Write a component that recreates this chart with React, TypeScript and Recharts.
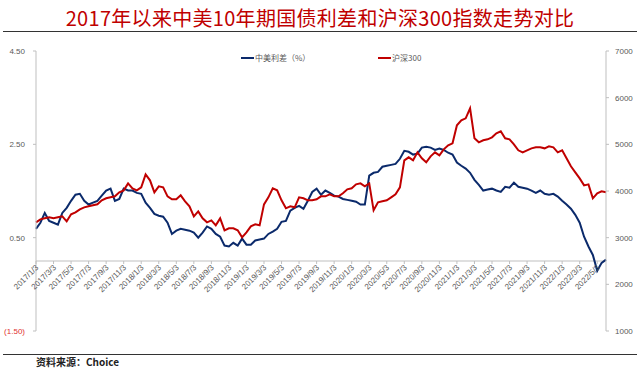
import { LineChart, Line, XAxis, YAxis, ReferenceLine } from 'recharts';

// half-month points, 2017/1/3 .. 2022/6/3
const years = [2017, 2018, 2019, 2020, 2021, 2022];
const dates: string[] = [];
years.forEach(y => {
    for (let m = 1; m <= 12; m++) {
        if (y === 2022 && m > 6) break;
        dates.push(`${y}/${m}/3`);
        if (y === 2022 && m === 6) break;
        dates.push(`${y}/${m}/18`);
    }
});

// 中美10年期国债利差 (%)
const spread = [
    0.69, 0.82, 1.03, 0.86, 0.82, 0.78, 1.03, 1.14, 1.29, 1.42,
    1.44, 1.29, 1.21, 1.25, 1.29, 1.40, 1.51, 1.55, 1.29, 1.33,
    1.55, 1.51, 1.51, 1.46, 1.44, 1.25, 1.14, 1.01, 0.97, 0.95,
    0.82, 0.58, 0.65, 0.69, 0.67, 0.65, 0.61, 0.50, 0.61, 0.74,
    0.69, 0.58, 0.52, 0.33, 0.31, 0.39, 0.33, 0.48, 0.35, 0.35,
    0.44, 0.46, 0.48, 0.58, 0.63, 0.69, 0.84, 0.86, 1.08, 1.14,
    1.18, 1.12, 1.29, 1.48, 1.55, 1.42, 1.51, 1.46, 1.40, 1.38,
    1.33, 1.31, 1.29, 1.27, 1.21, 1.21, 1.83, 1.89, 1.91, 2.02,
    2.04, 2.06, 2.08, 2.19, 2.36, 2.34, 2.28, 2.30, 2.43, 2.45,
    2.43, 2.38, 2.41, 2.38, 2.32, 2.28, 2.11, 2.04, 1.98, 1.89,
    1.74, 1.63, 1.51, 1.53, 1.55, 1.51, 1.48, 1.59, 1.57, 1.68,
    1.59, 1.57, 1.55, 1.51, 1.46, 1.51, 1.44, 1.42, 1.44, 1.38,
    1.29, 1.21, 1.12, 0.99, 0.82, 0.52, 0.31, 0.13, -0.21, -0.04,
    0.03,
];

// 沪深300
const csi300 = [
    3329, 3393, 3414, 3436, 3414, 3436, 3457, 3350, 3500, 3543,
    3607, 3650, 3672, 3693, 3714, 3800, 3843, 3864, 3886, 3972,
    4014, 4164, 4057, 4014, 4079, 4357, 4229, 3972, 4100, 4079,
    3886, 3822, 3822, 3907, 3779, 3672, 3457, 3564, 3414, 3329,
    3371, 3264, 3414, 3157, 3200, 3200, 3157, 3007, 3114, 3243,
    3286, 3264, 3714, 3864, 4057, 4014, 3800, 3629, 3672, 3650,
    3864, 3843, 3800, 3800, 3822, 3886, 3886, 3929, 3886, 3886,
    3950, 4036, 4057, 4143, 4164, 4100, 4164, 3586, 3757, 3779,
    3800, 3864, 3929, 4079, 4657, 4722, 4657, 4829, 4700, 4614,
    4743, 4829, 4764, 4893, 4979, 5022, 5407, 5515, 5557, 5772,
    5129, 5043, 5086, 5107, 5150, 5236, 5279, 5129, 5107, 5000,
    4872, 4829, 4872, 4914, 4936, 4936, 4914, 4957, 4936, 4829,
    4872, 4700, 4529, 4400, 4271, 4121, 4143, 3843, 3950, 3993,
    3972,
];

const leftTicks = [-1.5, 0.5, 2.5, 4.5];
const rightTicks = [1000, 2000, 3000, 4000, 5000, 6000, 7000];

const data = dates.map((d, i) => ({ date: d, spread: spread[i], csi: csi300[i] }));

const W = 640;
const H = 369;
const PLOT_TOP = 51;
const PLOT_BOTTOM = 331;
const LEFT_MIN = -1.5;
const LEFT_MAX = 4.5;
const ZERO_Y = PLOT_TOP + (PLOT_BOTTOM - PLOT_TOP) * LEFT_MAX / (LEFT_MAX - LEFT_MIN);

const BLUE = '#0b2a6b';
const RED = '#c00000';
const AXIS = '#bfbfbf';
const TXT = '#595959';
const FONT = '"Liberation Sans", Arial, sans-serif';
const CJK = '"Noto Sans CJK SC", sans-serif';

const DateTick = ({ x, payload }: any) => (
    <g>
        <line x1={x} y1={ZERO_Y} x2={x} y2={ZERO_Y + 3} stroke={AXIS} />
        <text
            x={x + 3}
            y={ZERO_Y + 7}
            transform={`rotate(-45 ${x + 3} ${ZERO_Y + 7})`}
            textAnchor="end"
            fontSize={8}
            fontFamily={FONT}
            fill={TXT}
        >
            {payload.value}
        </text>
    </g>
);

const LeftTick = ({ x, y, payload }: any) => {
    const v = payload.value as number;
    const label = v < 0 ? `(${Math.abs(v).toFixed(2)})` : v.toFixed(2);
    return (
        <text x={x - 6} y={y + 3} textAnchor="end" fontSize={8} fontFamily={FONT} fill={v < 0 ? '#e03030' : TXT}>
            {label}
        </text>
    );
};

const RightTick = ({ x, y, payload }: any) => (
    <text x={x + 4} y={y + 3} textAnchor="start" fontSize={8} fontFamily={FONT} fill={TXT}>
        {payload.value}
    </text>
);

export default function App() {
    return (
        <div style={{ position: 'absolute', left: 0, top: 0, width: W, height: H, background: '#fff', overflow: 'hidden' }}>
            <div style={{ position: 'absolute', top: 7, left: 0, width: W, textAlign: 'center', fontFamily: CJK, fontSize: 20, lineHeight: '22px', color: RED, letterSpacing: 0.3 }}>
                2017年以来中美10年期国债利差和沪深300指数走势对比
            </div>
            <div style={{ position: 'absolute', top: 31, left: 3, width: 634, borderTop: '1.5px solid #333' }} />
            <div style={{ position: 'absolute', top: 354, left: 3, width: 634, borderTop: '1.5px solid #333' }} />
            <div style={{ position: 'absolute', top: 355, left: 36, fontFamily: CJK, fontSize: 10, fontWeight: 700, color: '#222', lineHeight: '13px' }}>
                资料来源：Choice
            </div>

            <LineChart
                width={W}
                height={H}
                data={data}
                margin={{ top: PLOT_TOP, right: 4, bottom: H - PLOT_BOTTOM - 1, left: 6 }}
            >
                <XAxis dataKey="date" interval={3} axisLine={false} tickLine={false} height={1} tick={<DateTick />} />
                <YAxis
                    yAxisId="left"
                    domain={[LEFT_MIN, LEFT_MAX]}
                    ticks={leftTicks}
                    width={30}
                    stroke={AXIS}
                    tickSize={3}
                    tick={<LeftTick />}
                />
                <YAxis
                    yAxisId="right"
                    orientation="right"
                    domain={[1000, 7000]}
                    ticks={rightTicks}
                    width={30}
                    stroke={AXIS}
                    tickSize={3}
                    tick={<RightTick />}
                />
                <ReferenceLine yAxisId="left" y={0} stroke={AXIS} />
                <Line yAxisId="left" dataKey="spread" stroke={BLUE} strokeWidth={2} dot={false} isAnimationActive={false} />
                <Line yAxisId="right" dataKey="csi" stroke={RED} strokeWidth={2} dot={false} isAnimationActive={false} />
            </LineChart>

            <div style={{ position: 'absolute', top: 52, left: 241, display: 'flex', alignItems: 'center', fontFamily: CJK, fontSize: 8, color: TXT }}>
                <span style={{ width: 13, height: 2, background: BLUE, marginRight: 1 }} />
                中美利差（%）
            </div>
            <div style={{ position: 'absolute', top: 52, left: 378, display: 'flex', alignItems: 'center', fontFamily: CJK, fontSize: 8, color: TXT }}>
                <span style={{ width: 13, height: 2, background: RED, marginRight: 1 }} />
                沪深300
            </div>
        </div>
    );
}
